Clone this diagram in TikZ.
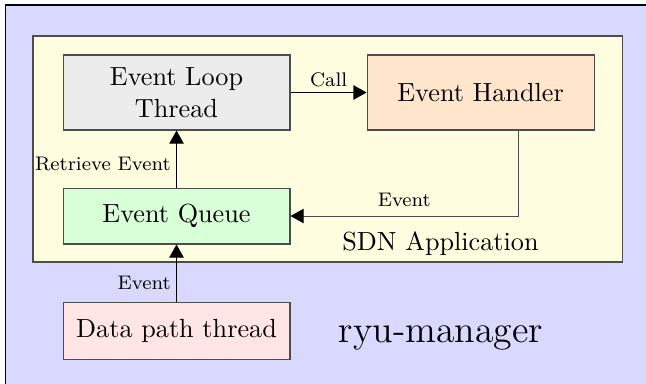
\documentclass[tikz,border=0pt]{standalone}
\usetikzlibrary{positioning, arrows.meta}

\begin{document}
\begin{tikzpicture}[
		node distance=0.765cm,
		box/.style={draw=black!70, minimum width=3.045cm, align=center},
		lbl/.style={font=\fontsize{7.5}{9}\selectfont, inner sep=2pt},
		>={Triangle[length=5pt,width=5.5pt,black]}
	]
		\useasboundingbox (0,0) rectangle (8.666,-5.151);
		% ryu-manager and SDN application frames
		\draw[fill=blue!15] (0.08,-0.067) rectangle (9,-6);
		\draw[draw=black!70, fill=yellow!12] (0.443,-0.483) rectangle (8.357,-3.515);

		\node[box, fill=gray!15, minimum height=1.006cm] (loop) at (2.368,-1.241) {Event Loop\\Thread};
		\node[box, fill=orange!20, minimum height=1.006cm, right=1.02cm of loop] (handler) {Event Handler};
		\node[box, fill=green!15, minimum height=0.75cm, below=of loop] (queue) {Event Queue};
		\node[box, fill=red!10, minimum height=0.765cm, below=of queue] (datapath) {Data path thread};

		\node[anchor=base] (app) at (5.909,-3.354) {SDN Application};
		\node[anchor=base, font=\Large] (ryu) at (5.916,-4.601) {ryu-manager};

		\draw[->] (loop) -- node[lbl, above]{Call} (handler);
		\draw[->] (queue) -- node[lbl, left, pos=0.42]{Retrieve Event} (loop);
		\draw[->] (datapath) -- node[lbl, left, pos=0.32]{Event} (queue);
		\draw[->, draw=black!70] ([xshift=0.503cm]handler.south) |- node[lbl, above, pos=0.75, yshift=1.5pt]{Event} (queue);
	\end{tikzpicture}
\end{document}
